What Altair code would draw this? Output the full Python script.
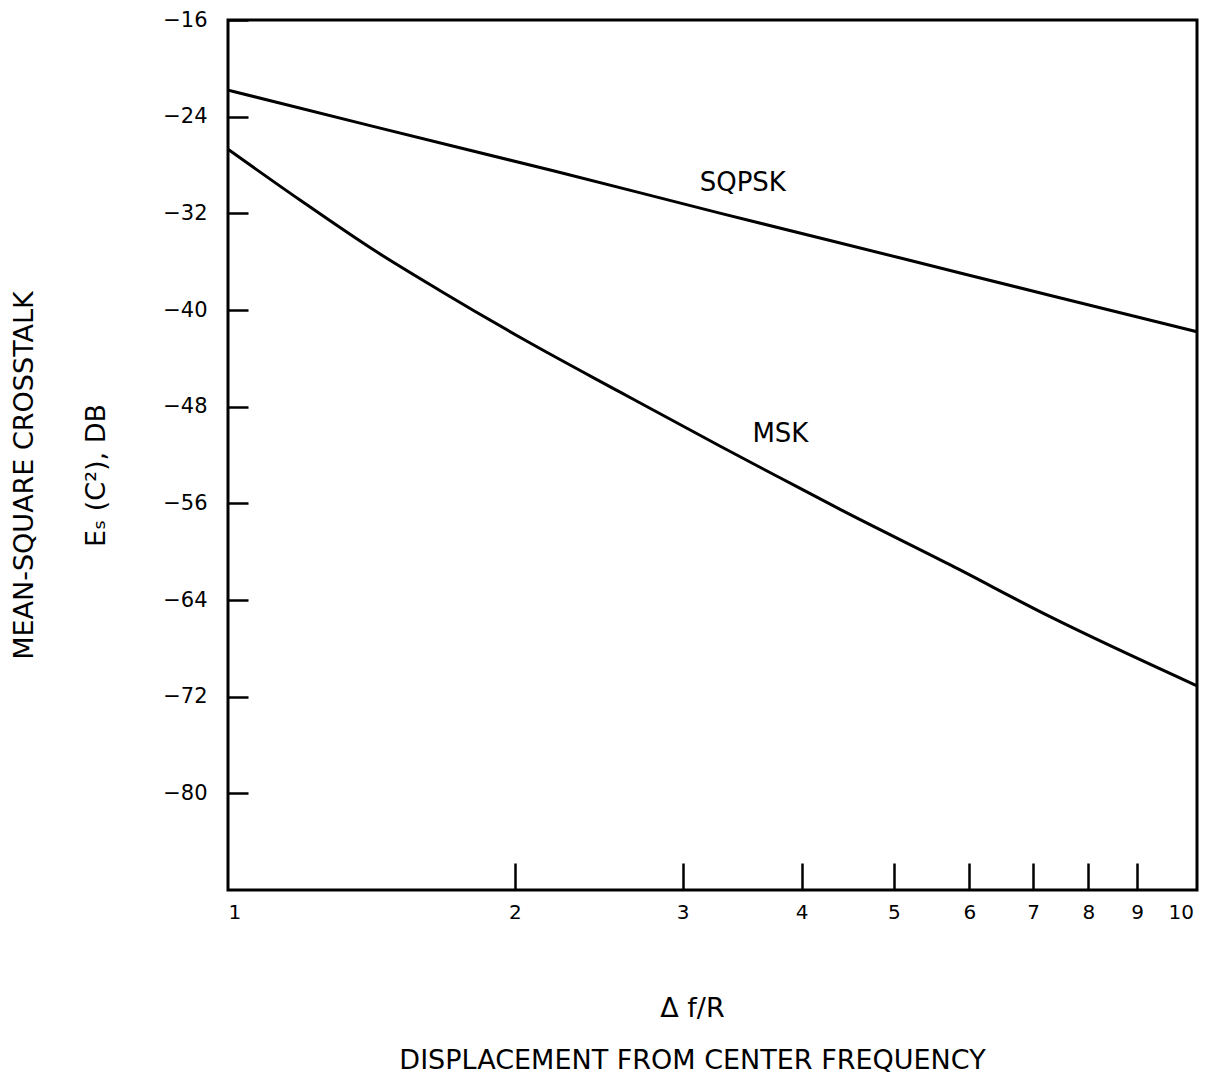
import altair as alt
import pandas as pd

# --- data ---
sqpsk_x = [1, 1.42, 2.2, 3.29, 5.08, 7.3, 10.4]
sqpsk_y = [-21.8, -24.8, -28.5, -32.0, -35.7, -38.8, -41.8]

msk_x = [1, 1.19, 1.42, 1.67, 2.04, 2.58, 3.29, 3.8, 4.39, 5.73, 7.3, 10.4]
msk_y = [-26.7, -30.9, -35.0, -38.4, -42.4, -46.8, -51.3, -53.9, -56.5, -61.1, -65.4, -71.1]

label_names = ["SQPSK", "MSK"]
label_x = [3.47, 3.80]
label_y = [-29.5, -50.3]

y_ticks = [-16, -24, -32, -40, -48, -56, -64, -72, -80]
x_ticks = [1, 2, 3, 4, 5, 6, 7, 8, 9, 10]

df = pd.concat([
    pd.DataFrame({"f": sqpsk_x, "db": sqpsk_y, "series": "SQPSK"}),
    pd.DataFrame({"f": msk_x, "db": msk_y, "series": "MSK"}),
])
labels = pd.DataFrame({"name": label_names, "f": label_x, "db": label_y})

FONT = "DejaVu Sans"
X_DOMAIN = [1, 10.4]
Y_DOMAIN = [-88, -16]

x_enc = alt.X(
    "f:Q",
    scale=alt.Scale(type="log", domain=X_DOMAIN, nice=False),
    axis=alt.Axis(
        values=x_ticks, format="d", tickSize=27, offset=-27, domain=False,
        tickColor="black", tickWidth=2.5,
        tickOpacity={"condition": {"test": "datum.value >= 10 || datum.value <= 1", "value": 0}, "value": 1},
        labelFontSize=20, labelColor="black",
        labelPadding=12, labelFont=FONT, grid=False,
        title=["Δ f/R", "DISPLACEMENT FROM CENTER FREQUENCY"],
        titleFont=FONT, titleFontSize=27, titleFontWeight="normal",
        titleColor="black", titleLineHeight=52, titlePadding=73, titleX=464,
    ),
)
y_enc = alt.Y(
    "db:Q",
    scale=alt.Scale(domain=Y_DOMAIN, nice=False, zero=False),
    axis=alt.Axis(
        values=y_ticks, tickSize=20, offset=-20, domain=False,
        tickColor="black", tickWidth=2.5, labelFontSize=21, labelColor="black",
        labelPadding=21, labelFont=FONT, grid=False,
        title=["MEAN-SQUARE CROSSTALK", "Eₛ (C²), DB"],
        titleFont=FONT, titleFontSize=27, titleFontWeight="normal",
        titleColor="black", titleLineHeight=72, titlePadding=52, titleY=455,
    ),
)

lines = alt.Chart(df).mark_line(color="black", strokeWidth=3, interpolate="monotone").encode(
    x=x_enc, y=y_enc, detail="series:N"
)

texts = alt.Chart(labels).mark_text(
    font=FONT, fontSize=26, color="black", align="center", baseline="middle"
).encode(
    x=alt.X("f:Q", scale=alt.Scale(type="log", domain=X_DOMAIN, nice=False)),
    y=alt.Y("db:Q", scale=alt.Scale(domain=Y_DOMAIN, nice=False, zero=False)),
    text="name:N",
)

chart = (
    alt.layer(lines, texts)
    .properties(
        width=969,
        height=870,
        autosize=alt.AutoSizeParams(type="none"),
        padding={"left": 220, "top": 12, "right": 8, "bottom": 185},
    )
    .configure(background="white")
    .configure_view(stroke="black", strokeWidth=3)
)

chart.save("out.html", embed_options={"renderer": "svg", "actions": False})
